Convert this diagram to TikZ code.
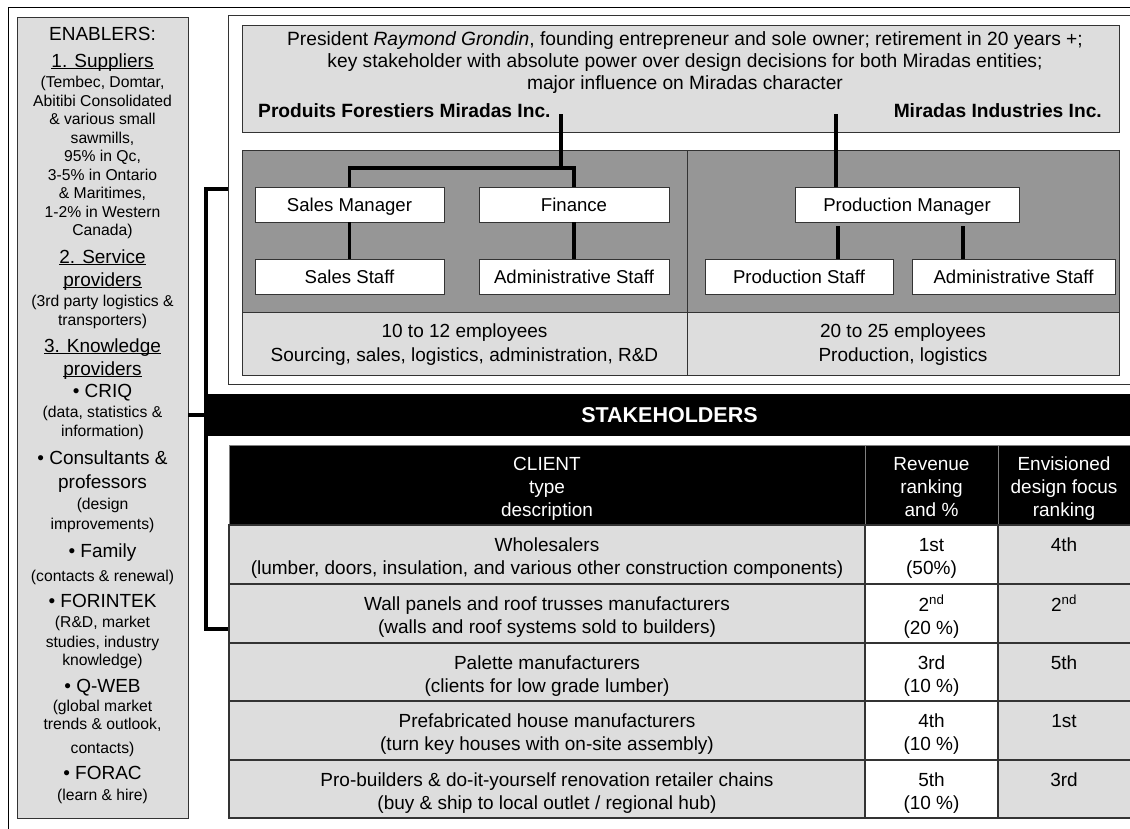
\documentclass[tikz,border=0pt]{standalone}
\usepackage{fontspec}
\setmainfont{Liberation Sans}
\definecolor{lgray}{HTML}{DDDDDD}
\definecolor{dgray}{HTML}{969696}
\definecolor{edge}{HTML}{333333}
\definecolor{hdrline}{HTML}{808080}
\newcommand\fbig{\fontsize{19}{22}\selectfont}
\newcommand\fsmall{\fontsize{15.7}{18}\selectfont}
\newcommand\ftab{\fontsize{19}{23}\selectfont}
\newcommand\forg{\fontsize{18.6}{22}\selectfont}
\newcommand\fpres{\fontsize{19.2}{22}\selectfont}
\newcommand\fstk{\fontsize{21.5}{24}\selectfont\bfseries}
\newcommand\mystrut{\rule{0pt}{15pt}}
\newcommand\myul[1]{\setbox0\hbox{#1}\rlap{\rule[-2.3pt]{\wd0}{1.1pt}}\box0}
\newcommand\mkbox[7]{\node[#6, anchor=north west, minimum width={(#4)-(#2)}, minimum height={(#5)-(#3)}] (#1) at (#2,#3) {#7};}
\newcommand\sbl[4]{\node[anchor=base, inner sep=0pt, font=#3] (#1) at (102.5,#2) {#4};}
\newcommand\trow[6]{%
  \mkbox{r#1a}{229}{#2}{865}{#3}{cellg}{}
  \mkbox{r#1b}{865}{#2}{998}{#3}{cellw}{}
  \mkbox{r#1c}{998}{#2}{1131}{#3}{cellg}{}
  \node[txt, anchor=north] (t#1a) at (547,#2+11) {\mystrut #4};
  \node[txt, anchor=north] (t#1b) at (931.5,#2+11) {\mystrut #5};
  \node[txt, anchor=north] (t#1c) at (1064,#2+11) {\mystrut #6};
}
\tikzset{
  frameline/.style={draw=black, line width=1pt},
  grayb/.style={draw=edge, fill=lgray, line width=1pt, inner sep=0pt, outer sep=0pt},
  darkb/.style={draw=edge, fill=dgray, line width=1pt, inner sep=0pt, outer sep=0pt},
  orgbox/.style={draw=edge, fill=white, line width=1pt, inner sep=0pt, outer sep=0pt, font=\forg, text height=13.3pt, text depth=0pt},
  blackb/.style={fill=black, draw=black, inner sep=0pt, outer sep=0pt, text=white, font=\fstk, text height=15.4pt, text depth=0pt},
  hdr/.style={fill=black, draw=hdrline, line width=1pt, inner sep=0pt, outer sep=0pt},
  cellg/.style={fill=lgray, draw=edge, line width=1.3pt, inner sep=0pt, outer sep=0pt},
  cellw/.style={fill=white, draw=edge, line width=1.3pt, inner sep=0pt, outer sep=0pt},
  txt/.style={inner sep=0pt, font=\ftab, align=center},
  conn/.style={draw=black, line width=3.3pt},
  bracket/.style={draw=black, line width=4pt, line join=miter},
}
\begin{document}
\begin{tikzpicture}[x=1pt,y=-1pt]
\useasboundingbox (0,0) rectangle (1130,828);
\fill[white] (0,0) rectangle (1130,828);
% outer frame
\draw[frameline] (8,829) -- (8,7) -- (1131,7);
% sidebar
\mkbox{side}{17}{17}{188}{818}{grayb}{}
\sbl{s1}{40}{\fbig}{ENABLERS:}
\sbl{s2}{67}{\fbig}{\myul{1. Suppliers}}
\sbl{s3}{87}{\fsmall}{(Tembec, Domtar,}
\sbl{s4}{106}{\fsmall}{Abitibi Consolidated}
\sbl{s5}{124}{\fsmall}{\& various small}
\sbl{s6}{143}{\fsmall}{sawmills,}
\sbl{s7}{161}{\fsmall}{95\% in Qc,}
\sbl{s8}{180}{\fsmall}{3-5\% in Ontario}
\sbl{s9}{198}{\fsmall}{\& Maritimes,}
\sbl{s10}{217}{\fsmall}{1-2\% in Western}
\sbl{s11}{235}{\fsmall}{Canada)}
\sbl{s12}{263}{\fbig}{\myul{2. Service}}
\sbl{s13}{286}{\fbig}{\myul{providers}}
\sbl{s14}{306}{\fsmall}{(3rd party logistics \&}
\sbl{s15}{325}{\fsmall}{transporters)}
\sbl{s16}{352}{\fbig}{\myul{3. Knowledge}}
\sbl{s17}{375}{\fbig}{\myul{providers}}
\sbl{s18}{397}{\fbig}{• CRIQ}
\sbl{s19}{417}{\fsmall}{(data, statistics \&}
\sbl{s20}{436}{\fsmall}{information)}
\sbl{s21}{464}{\fbig}{• Consultants \&}
\sbl{s22}{488}{\fbig}{professors}
\sbl{s23}{509}{\fsmall}{(design}
\sbl{s24}{529}{\fsmall}{improvements)}
\sbl{s25}{557}{\fbig}{• Family}
\sbl{s26}{581}{\fsmall}{(contacts \& renewal)}
\sbl{s27}{607}{\fbig}{• FORINTEK}
\sbl{s28}{627}{\fsmall}{(R\&D, market}
\sbl{s29}{647}{\fsmall}{studies, industry}
\sbl{s30}{665}{\fsmall}{knowledge)}
\sbl{s31}{692}{\fbig}{• Q-WEB}
\sbl{s32}{711}{\fsmall}{(global market}
\sbl{s33}{729}{\fsmall}{trends \& outlook,}
\sbl{s34}{753}{\fsmall}{contacts)}
\sbl{s35}{779}{\fbig}{• FORAC}
\sbl{s36}{800}{\fsmall}{(learn \& hire)}
% upper white box
\draw[draw=edge, line width=1pt] (1131,15) -- (228,15) -- (228,384) -- (1131,384);
% president box
\mkbox{pres}{242}{25}{1119}{132}{grayb}{}
\node[anchor=base, inner sep=0pt, font=\fpres] (p1) at (685,45) {President \textit{Raymond Grondin}, founding entrepreneur and sole owner; retirement in 20 years +;};
\node[anchor=base, inner sep=0pt, font=\fpres] (p2) at (685,67) {key stakeholder with absolute power over design decisions for both Miradas entities;};
\node[anchor=base, inner sep=0pt, font=\fpres] (p3) at (685,89) {major influence on Miradas character};
\node[anchor=base west, inner sep=0pt, font=\fpres\bfseries] (pf) at (258,117) {Produits Forestiers Miradas Inc.};
\node[anchor=base east, inner sep=0pt, font=\fpres\bfseries] (mi) at (1102,117) {Miradas Industries Inc.};
% dark panels
\mkbox{panL}{242}{150}{687}{312}{darkb}{}
\mkbox{panR}{687}{150}{1119}{312}{darkb}{}
\mkbox{empL}{242}{312}{687}{375}{grayb}{}
\mkbox{empR}{687}{312}{1119}{375}{grayb}{}
\node[txt, anchor=north, font=\fontsize{19}{24}\selectfont] (eL) at (464.5,322) {\mystrut 10 to 12 employees\\Sourcing, sales, logistics, administration, R\&D};
\node[txt, anchor=north, font=\fontsize{19}{24}\selectfont] (eR) at (903,322) {\mystrut 20 to 25 employees\\Production, logistics};
% org boxes
\mkbox{sm}{255}{187}{444}{222}{orgbox}{Sales Manager}
\mkbox{fin}{479}{187}{669}{222}{orgbox}{Finance}
\mkbox{ss}{255}{259}{444}{294}{orgbox}{Sales Staff}
\mkbox{as1}{479}{259}{669}{294}{orgbox}{Administrative Staff}
\mkbox{pm}{795}{187}{1019}{222}{orgbox}{Production Manager}
\mkbox{ps}{705}{259}{893}{294}{orgbox}{Production Staff}
\mkbox{as2}{912}{259}{1115}{294}{orgbox}{Administrative Staff}
% connectors
\coordinate (c1) at (561,114);
\coordinate (j1) at (561,168);
\coordinate (c2) at (836,114);
\coordinate (k1) at (838,226);
\coordinate (k2) at (963,226);
\draw[conn] (c1) -- (j1);
\draw[conn] (sm.north) |- (j1) -| (fin.north);
\draw[conn] (sm) -- (ss);
\draw[conn] (fin) -- (as1);
\draw[conn] (c2) -- (c2 |- pm.north);
\draw[conn] (k1) -- (k1 |- ps.north);
\draw[conn] (k2) -- (k2 |- as2.north);
% stakeholders bar
\mkbox{stk}{208}{394}{1131}{435}{blackb}{STAKEHOLDERS}
% bracket
\coordinate (bt) at (228,189);
\coordinate (bb) at (229,629);
\draw[bracket] (bt) -- (206,189) -- (206,629) -- (bb);
\draw[bracket] (side.east |- stk.west) -- (stk.west);
% table header
\mkbox{h1}{229}{445}{865}{525}{hdr}{}
\mkbox{h2}{865}{445}{998}{525}{hdr}{}
\mkbox{h3}{998}{445}{1131}{525}{hdr}{}
\node[txt, anchor=north, text=white] (th1) at (547,455) {\mystrut CLIENT\\type\\description};
\node[txt, anchor=north, text=white] (th2) at (931.5,455) {\mystrut Revenue\\ranking\\and \%};
\node[txt, anchor=north, text=white] (th3) at (1064,455) {\mystrut Envisioned\\design focus\\ranking};
% rows
\trow{1}{525}{584}{Wholesalers\\(lumber, doors, insulation, and various other construction components)}{1st\\(50\%)}{4th}
\trow{2}{584}{643}{Wall panels and roof trusses manufacturers\\(walls and roof systems sold to builders)}{2\textsuperscript{nd}\\(20 \%)}{2\textsuperscript{nd}}
\trow{3}{643}{701}{Palette manufacturers\\(clients for low grade lumber)}{3rd\\(10 \%)}{5th}
\trow{4}{701}{760}{Prefabricated house manufacturers\\(turn key houses with on-site assembly)}{4th\\(10 \%)}{1st}
\trow{5}{760}{818}{Pro-builders \& do-it-yourself renovation retailer chains\\(buy \& ship to local outlet / regional hub)}{5th\\(10 \%)}{3rd}
\end{tikzpicture}
\end{document}
